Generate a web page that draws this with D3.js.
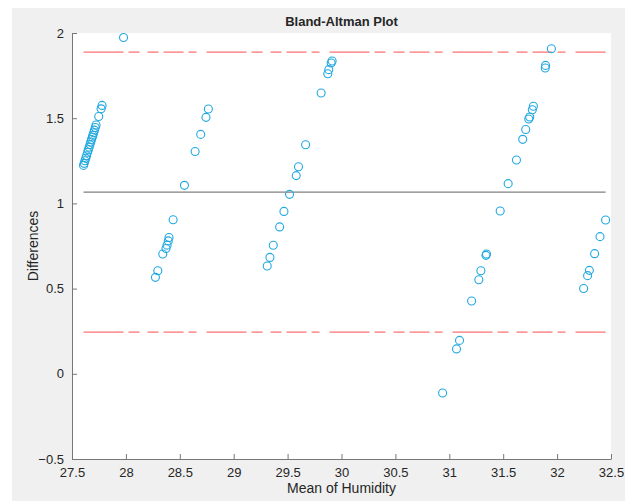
<!DOCTYPE html>
<html>
<head>
<meta charset="utf-8">
<script src="https://cdn.jsdelivr.net/npm/d3@7"></script>
<style>
  body { margin: 0; background: #fff; }
  text { font-family: "Liberation Sans", Arial, sans-serif; fill: #262626; }
</style>
</head>
<body>
<div id="plot"></div>
<script>
// mean of the two measurements
var meanVals = [
  27.607, 27.613, 27.620, 27.628, 27.635, 27.645, 27.652, 27.659, 27.667, 27.674,
  27.681, 27.689, 27.694, 27.701, 27.708, 27.716, 27.723, 27.748, 27.770, 27.779,
  27.978,
  28.274, 28.296, 28.342, 28.372, 28.382, 28.393, 28.400, 28.438,
  28.543, 28.642, 28.694, 28.743, 28.765,
  29.311, 29.336, 29.367, 29.426, 29.466, 29.518, 29.580, 29.601, 29.667, 29.811,
  29.873, 29.882, 29.904, 29.913,
  30.938, 31.067, 31.095, 31.207, 31.274, 31.293, 31.340, 31.345, 31.472, 31.546,
  31.623, 31.681, 31.709, 31.737, 31.746, 31.770, 31.780, 31.890, 31.893, 31.947,
  32.246, 32.283, 32.299, 32.348, 32.398, 32.450
];
// difference of the two measurements
var diffVals = [
  1.223, 1.235, 1.250, 1.265, 1.280, 1.300, 1.315, 1.330, 1.345, 1.360,
  1.375, 1.390, 1.400, 1.415, 1.430, 1.445, 1.460, 1.510, 1.555, 1.575,
  1.974,
  0.566, 0.605, 0.703, 0.735, 0.755, 0.780, 0.800, 0.904,
  1.106, 1.305, 1.405, 1.505, 1.554,
  0.633, 0.683, 0.754, 0.862, 0.953, 1.053, 1.163, 1.215, 1.344, 1.648,
  1.761, 1.785, 1.824, 1.836,
  -0.113, 0.146, 0.196, 0.427, 0.552, 0.605, 0.695, 0.703, 0.955, 1.116,
  1.255, 1.376, 1.434, 1.495, 1.507, 1.550, 1.570, 1.795, 1.810, 1.908,
  0.501, 0.576, 0.607, 0.705, 0.805, 0.903
];
var meanDiff = 1.066;
var upperLoA = 1.888;
var lowerLoA = 0.245;
var xTicks = [27.5, 28, 28.5, 29, 29.5, 30, 30.5, 31, 31.5, 32, 32.5];
var yTicks = [-0.5, 0, 0.5, 1, 1.5, 2];

var svgWidth = 625, svgHeight = 501;
var margin = { top: 33, right: 14, bottom: 42, left: 72 };
var width = 611 - margin.left;
var height = 459 - margin.top;

var svg = d3.select("#plot").append("svg")
  .attr("width", svgWidth)
  .attr("height", svgHeight);

// figure background
svg.append("rect")
  .attr("x", 12).attr("y", 8)
  .attr("width", svgWidth - 12).attr("height", svgHeight - 8)
  .attr("fill", "#f0f0f0");

var chartGroup = svg.append("g")
  .attr("transform", `translate(${margin.left}, ${margin.top})`);

chartGroup.append("rect")
  .attr("width", width).attr("height", height)
  .attr("fill", "#fff");

var x = d3.scaleLinear().domain([27.5, 32.5]).range([0, width]);
var y = d3.scaleLinear().domain([-0.5, 2]).range([height, 0]);

// axes, ticks pointing inward like matlab
var bottomAxis = d3.axisBottom(x).tickValues(xTicks).tickSizeInner(-5).tickSizeOuter(0).tickPadding(9)
  .tickFormat(d3.format("~g"));
var leftAxis = d3.axisLeft(y).tickValues(yTicks).tickSizeInner(-5).tickSizeOuter(0).tickPadding(8)
  .tickFormat(d3.format("~g"));

var gx = chartGroup.append("g")
  .attr("transform", `translate(0, ${height})`)
  .call(bottomAxis);
var gy = chartGroup.append("g").call(leftAxis);

[gx, gy].forEach(function(g) {
  g.select(".domain").attr("stroke", "#777").attr("stroke-width", 1);
  g.selectAll(".tick line").attr("stroke", "#777");
  g.selectAll(".tick text")
    .style("font-size", "13px")
    .style("font-family", "'Liberation Sans', Arial, sans-serif")
    .attr("fill", "#262626");
});

// reference lines span the data range
var xr = d3.extent(meanVals);

chartGroup.append("line")
  .attr("x1", x(xr[0])).attr("x2", x(xr[1]))
  .attr("y1", y(meanDiff)).attr("y2", y(meanDiff))
  .attr("stroke", "#808080").attr("stroke-width", 1.2);

[upperLoA, lowerLoA].forEach(function(v) {
  chartGroup.append("line")
    .attr("x1", x(xr[0])).attr("x2", x(xr[1]))
    .attr("y1", y(v)).attr("y2", y(v))
    .attr("stroke", "#ff7272").attr("stroke-width", 1.3)
    .attr("stroke-dasharray", "40,5,11,8,11,5,20,5,8,10");
});

// data points
chartGroup.selectAll("circle")
  .data(meanVals)
  .enter()
  .append("circle")
  .attr("cx", d => x(d))
  .attr("cy", (d, i) => y(diffVals[i]))
  .attr("r", 4)
  .attr("fill", "none")
  .attr("stroke", "#20a8e0")
  .attr("stroke-width", 1.1);

// title and labels
svg.append("text")
  .attr("x", margin.left + width / 2).attr("y", 26)
  .attr("text-anchor", "middle")
  .style("font-size", "13px").style("font-weight", "bold")
  .text("Bland-Altman Plot");

svg.append("text")
  .attr("x", margin.left + width / 2).attr("y", 493)
  .attr("text-anchor", "middle")
  .style("font-size", "14px")
  .text("Mean of Humidity");

svg.append("text")
  .attr("transform", `translate(38, ${margin.top + height / 2}) rotate(-90)`)
  .attr("text-anchor", "middle")
  .style("font-size", "14px")
  .text("Differences");
</script>
</body>
</html>
